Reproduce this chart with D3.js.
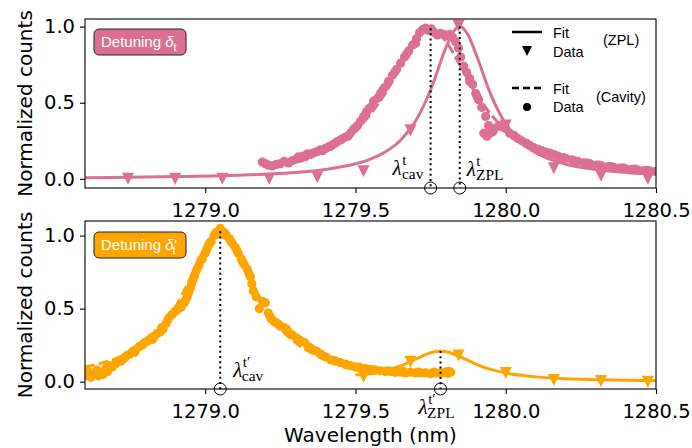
<!DOCTYPE html>
<html><head><meta charset="utf-8">
<script src="https://cdn.jsdelivr.net/npm/d3@7"></script>
<style>body{margin:0;background:#fff}</style>
</head><body>
<svg id="c" width="692" height="448"></svg>
<script>
// ---------------- DATA ----------------
const xTicks = [1279.0, 1279.5, 1280.0, 1280.5];
const yTicks = [0.0, 0.5, 1.0];

// ZPL data (triangles)
const zplTopWl  = [1278.743,1278.9,1279.057,1279.213,1279.373,1279.527,1279.683,1279.843,1280.0,1280.16,1280.317,1280.473];
const zplTopVal = [0.0,0.0,0.0,0.0,0.01,0.05,0.32,1.005,0.35,0.07,0.02,0.0];
const zplBotWl  = [1279.527,1279.683,1279.843,1280.0,1280.16,1280.317,1280.473];
const zplBotVal = [0.034,0.137,0.18,0.06,0.012,0.005,0.0];

// ZPL fits (solid)
const zplFitTopWl  = [1278.6,1278.75,1278.9,1279.05,1279.2,1279.3,1279.4,1279.5,1279.55,1279.6,1279.65,1279.7,1279.75,1279.8,1279.825,1279.847,1279.875,1279.9,1279.95,1280.0,1280.05,1280.1,1280.15,1280.2,1280.3,1280.4,1280.5];
const zplFitTopVal = [0.008,0.011,0.015,0.020,0.031,0.042,0.062,0.099,0.130,0.178,0.254,0.380,0.584,0.857,0.964,1.0,0.944,0.825,0.555,0.361,0.243,0.171,0.126,0.096,0.061,0.041,0.030];
const zplFitBotWl  = [1279.5,1279.55,1279.6,1279.65,1279.7,1279.75,1279.783,1279.8,1279.85,1279.9,1279.95,1280.0,1280.1,1280.2,1280.3,1280.4,1280.5];
const zplFitBotVal = [0.045,0.054,0.076,0.108,0.154,0.198,0.21,0.207,0.169,0.121,0.084,0.060,0.033,0.020,0.014,0.010,0.007];

// Cavity data (dots), top panel
const cavTopWl = [1279.19,1279.2,1279.21,1279.223,1279.237,1279.25,1279.263,1279.277,1279.29,1279.303,1279.317,1279.325,1279.333,1279.35,1279.358,1279.367,1279.383,1279.39,1279.4,1279.417,1279.425,1279.433,1279.45,1279.458,1279.467,1279.483,1279.493,1279.507,1279.517,1279.527,1279.537,1279.55,1279.56,1279.573,1279.583,1279.597,1279.61,1279.623,1279.637,1279.65,1279.663,1279.677,1279.69,1279.703,1279.713,1279.723,1279.733,1279.743,1279.753,1279.763,1279.773,1279.783,1279.793,1279.803,1279.813,1279.823,1279.833,1279.843,1279.85,1279.86,1279.87,1279.88,1279.89,1279.9,1279.91,1279.92,1279.927,1279.933,1279.937,1279.943,1279.947,1279.957,1279.963,1279.977,1279.99,1280.0,1280.013,1280.027,1280.04,1280.053,1280.067,1280.08,1280.093,1280.107,1280.12,1280.133,1280.147,1280.16,1280.173,1280.187,1280.2,1280.22,1280.24,1280.26,1280.28,1280.3,1280.32,1280.34,1280.36,1280.38,1280.4,1280.42,1280.44,1280.46,1280.48,1280.5,
  1279.31,1279.34,1279.375,1279.41,1279.44,1279.475,1279.5,1279.545,1279.59,1279.63,1279.67,1279.7,1279.88,1279.905,1280.03,1280.07,1280.11,1280.15,1280.19,1280.23,1280.27,1280.31,1280.35,1280.39,1280.43,1280.47];
const cavTopVal = [0.11,0.10,0.09,0.085,0.095,0.10,0.115,0.105,0.12,0.13,0.135,0.15,0.145,0.16,0.17,0.175,0.19,0.185,0.20,0.215,0.225,0.235,0.255,0.265,0.275,0.30,0.325,0.35,0.38,0.41,0.44,0.47,0.51,0.53,0.56,0.60,0.64,0.68,0.72,0.76,0.80,0.84,0.88,0.92,0.96,0.98,0.99,0.975,0.985,0.96,0.945,0.955,0.95,0.94,0.95,0.93,0.90,0.86,0.80,0.74,0.70,0.66,0.62,0.56,0.52,0.47,0.30,0.41,0.28,0.35,0.30,0.31,0.33,0.35,0.34,0.33,0.30,0.285,0.265,0.25,0.235,0.22,0.205,0.195,0.185,0.175,0.17,0.16,0.15,0.14,0.135,0.125,0.115,0.105,0.10,0.09,0.085,0.08,0.075,0.07,0.066,0.062,0.058,0.055,0.052,0.05,
  0.145,0.165,0.18,0.21,0.245,0.28,0.335,0.46,0.58,0.70,0.82,0.89,0.64,0.54,0.28,0.23,0.19,0.165,0.14,0.118,0.104,0.09,0.08,0.072,0.064,0.056];

// Cavity data (dots), bottom panel
const cavBotWl = [1278.6,1278.61,1278.62,1278.63,1278.64,1278.65,1278.66,1278.67,1278.68,1278.69,1278.7,1278.71,1278.72,1278.73,1278.74,1278.75,1278.76,1278.77,1278.78,1278.79,1278.8,1278.81,1278.82,1278.83,1278.84,1278.85,1278.86,1278.87,1278.88,1278.89,1278.9,1278.91,1278.92,1278.93,1278.94,1278.945,1278.95,1278.955,1278.96,1278.965,1278.97,1278.975,1278.98,1278.99,1279.0,1279.005,1279.01,1279.02,1279.03,1279.04,1279.05,1279.06,1279.07,1279.08,1279.09,1279.1,1279.11,1279.12,1279.13,1279.14,1279.15,1279.155,1279.16,1279.17,1279.18,1279.19,1279.2,1279.21,1279.22,1279.23,1279.24,1279.25,1279.263,1279.277,1279.29,1279.303,1279.317,1279.33,1279.343,1279.357,1279.37,1279.383,1279.4,1279.417,1279.433,1279.45,1279.467,1279.483,1279.5,1279.517,1279.533,1279.55,1279.567,1279.583,1279.6,1279.617,1279.633,1279.65,1279.667,1279.683,1279.7,1279.717,1279.733,1279.75,1279.767,1279.783,1279.8,1279.817,
  1278.615,1278.645,1278.675,1278.705,1278.735,1278.765,1278.795,1278.825,1278.855,1278.875,1278.905,1278.935,1278.985,1279.015,1279.035,1279.065,1279.085,1279.105,1279.125,1279.145,1279.215,1279.245,1279.27,1279.31,1279.35,1279.39,1279.43,1279.47,1279.51,1279.56,1279.61,1279.66,1279.71,1279.76,1279.81];
const cavBotVal = [0.04,0.07,0.03,0.05,0.08,0.06,0.05,0.09,0.11,0.10,0.12,0.14,0.14,0.16,0.18,0.19,0.21,0.22,0.24,0.25,0.27,0.28,0.30,0.31,0.33,0.34,0.36,0.40,0.44,0.46,0.48,0.50,0.51,0.54,0.58,0.61,0.64,0.67,0.70,0.73,0.76,0.78,0.80,0.84,0.88,0.905,0.93,0.96,1.00,1.01,1.05,1.01,1.00,0.98,0.95,0.92,0.88,0.84,0.80,0.77,0.72,0.67,0.62,0.58,0.50,0.55,0.54,0.47,0.43,0.41,0.40,0.38,0.37,0.34,0.32,0.30,0.28,0.27,0.24,0.22,0.21,0.19,0.17,0.15,0.14,0.13,0.12,0.11,0.10,0.095,0.09,0.085,0.08,0.075,0.07,0.07,0.065,0.065,0.06,0.065,0.06,0.06,0.06,0.055,0.06,0.06,0.065,0.065,
  0.05,0.04,0.07,0.13,0.17,0.20,0.26,0.29,0.37,0.42,0.49,0.56,0.83,0.95,1.02,1.02,0.96,0.90,0.82,0.74,0.45,0.39,0.36,0.29,0.23,0.18,0.145,0.115,0.10,0.08,0.075,0.07,0.065,0.065,0.07];

// Cavity fits (dashed)
const cavFitTopWl  = [1279.19,1279.25,1279.3,1279.35,1279.4,1279.45,1279.5,1279.55,1279.6,1279.65,1279.7,1279.725,1279.75,1279.775,1279.8,1279.85,1279.9,1279.95,1280.0,1280.05,1280.1,1280.15,1280.2,1280.25,1280.3,1280.35,1280.4,1280.45,1280.5];
const cavFitTopVal = [0.087,0.107,0.128,0.158,0.196,0.249,0.322,0.425,0.565,0.739,0.906,0.96,0.98,0.96,0.906,0.739,0.565,0.425,0.322,0.249,0.196,0.158,0.128,0.107,0.090,0.077,0.066,0.058,0.051];
const cavFitBotWl  = [1278.6,1278.65,1278.7,1278.75,1278.8,1278.85,1278.9,1278.95,1279.0,1279.025,1279.05,1279.075,1279.1,1279.15,1279.2,1279.25,1279.3,1279.35,1279.4,1279.45,1279.5,1279.55,1279.6,1279.65,1279.7,1279.75,1279.82];
const cavFitBotVal = [0.101,0.124,0.156,0.202,0.267,0.364,0.507,0.707,0.925,1.001,1.03,1.001,0.925,0.707,0.507,0.364,0.267,0.202,0.156,0.124,0.101,0.083,0.070,0.059,0.051,0.044,0.037];

// Resonance markers
const lamTop = {cav: 1279.75, zpl: 1279.847, cavPeak: 0.99, zplPeak: 1.0};
const lamBot = {cav: 1279.05, zpl: 1279.783, cavPeak: 1.03, zplPeak: 0.21};

const PINK = "#DB7093", ORANGE = "#FFA500";

// ---------------- DRAW ----------------
const svg = d3.select("#c");
const L = 85, R = 656;
const x = d3.scaleLinear().domain([1278.6, 1280.5]).range([L, R]);
const panels = [
  {top: 19, bot: 188, dom: [-0.06, 1.05], color: PINK, zW: zplTopWl, zVal: zplTopVal, zfW: zplFitTopWl, zfV: zplFitTopVal,
   cW: cavTopWl, cV: cavTopVal, cfW: cavFitTopWl, cfV: cavFitTopVal, lam: lamTop},
  {top: 221, bot: 389, dom: [-0.05, 1.10], color: ORANGE, zW: zplBotWl, zVal: zplBotVal, zfW: zplFitBotWl, zfV: zplFitBotVal,
   cW: cavBotWl, cV: cavBotVal, cfW: cavFitBotWl, cfV: cavFitBotVal, lam: lamBot}
];

const tickFont = "'DejaVu Sans', sans-serif";
const triPath = s => `M${-s},${-s}L${s},${-s}L0,${s}Z`;

panels.forEach((p, i) => {
  const y = d3.scaleLinear().domain(p.dom).range([p.bot, p.top]);
  const clipId = "clip" + i;
  svg.append("clipPath").attr("id", clipId).append("rect")
    .attr("x", L).attr("y", p.top).attr("width", R - L).attr("height", p.bot - p.top);
  const g = svg.append("g").attr("clip-path", `url(#${clipId})`);

  g.selectAll("circle.cav").data(p.cW.map((w, k) => [w, p.cV[k]])).enter().append("circle")
    .attr("cx", d => x(d[0])).attr("cy", d => y(d[1])).attr("r", 4.6).attr("fill", p.color);
  const line = d3.line().x(d => x(d[0])).y(d => y(d[1])).curve(d3.curveMonotoneX);
  g.append("path").attr("d", line(p.cfW.map((w, k) => [w, p.cfV[k]])))
    .attr("fill", "none").attr("stroke", p.color).attr("stroke-width", 3).attr("stroke-dasharray", "10,4");
  g.append("path").attr("d", line(p.zfW.map((w, k) => [w, p.zfV[k]])))
    .attr("fill", "none").attr("stroke", p.color).attr("stroke-width", 3);
  g.selectAll("path.tri").data(p.zW.map((w, k) => [w, p.zVal[k]])).enter().append("path")
    .attr("d", triPath(6)).attr("transform", d => `translate(${x(d[0])},${y(d[1])})`).attr("fill", p.color);

  const xa = svg.append("g").attr("transform", `translate(0,${p.bot})`)
    .call(d3.axisBottom(x).tickValues(xTicks).tickFormat(d3.format(".1f")).tickSize(5).tickPadding(10));
  const ya = svg.append("g").attr("transform", `translate(${L},0)`)
    .call(d3.axisLeft(y).tickValues(yTicks).tickFormat(d3.format(".1f")).tickSize(5).tickPadding(5));
  [xa, ya].forEach(a => {
    a.select(".domain").remove();
    a.selectAll("text").attr("font-family", tickFont).attr("font-size", 19.5).attr("fill", "#000");
    a.selectAll("line").attr("stroke", "#000").attr("stroke-width", 1.1);
  });
  svg.append("rect").attr("x", L).attr("y", p.top).attr("width", R - L).attr("height", p.bot - p.top)
    .attr("fill", "none").attr("stroke", "#000").attr("stroke-width", 1.1);

  svg.append("text").attr("transform", `translate(32,${(p.top + p.bot) / 2}) rotate(-90)`)
    .attr("text-anchor", "middle").attr("font-family", tickFont).attr("font-size", 20).text("Normalized counts");

  [[p.lam.cav, p.lam.cavPeak], [p.lam.zpl, p.lam.zplPeak]].forEach(([w, v]) => {
    svg.append("line").attr("x1", x(w)).attr("x2", x(w)).attr("y1", y(v)).attr("y2", p.bot)
      .attr("stroke", "#000").attr("stroke-width", 2).attr("stroke-dasharray", "2,3.2");
    svg.append("circle").attr("cx", x(w)).attr("cy", p.bot).attr("r", 6)
      .attr("fill", "none").attr("stroke", "#000").attr("stroke-width", 1);
  });
});

// lambda labels (single text element with super/subscript)
function lambda(x0, base, sup, sub, supW) {
  const f = "'Liberation Serif', 'Times New Roman', serif";
  const t = svg.append("text").attr("x", x0).attr("y", base).attr("font-family", f).attr("font-size", 21);
  t.append("tspan").attr("font-style", "italic").text("λ");
  t.append("tspan").attr("font-size", 15).attr("dx", 0.5).attr("dy", -10).text(sup);
  t.append("tspan").attr("font-size", 15.5).attr("dx", -supW).attr("dy", 13.5).text(sub);
}
lambda(x(lamTop.cav) - 38, 175, "t", "cav", 4.5);
lambda(x(lamTop.zpl) + 7, 176, "t", "ZPL", 4.5);
lambda(x(lamBot.cav) + 13, 377, "t′", "cav", 8.5);
lambda(x(lamBot.zpl) - 22, 414, "t′", "ZPL", 8.5);

svg.append("text").attr("x", (L + R) / 2).attr("y", 442).attr("text-anchor", "middle")
  .attr("font-family", tickFont).attr("font-size", 20).text("Wavelength (nm)");

const sans = "'Liberation Sans', Arial, sans-serif";
function box(y0, color, prime) {
  svg.append("rect").attr("x", 94).attr("y", y0).attr("width", 92).attr("height", 26).attr("rx", 5)
    .attr("fill", color).attr("stroke", "#222").attr("stroke-width", 1);
  const t = svg.append("text").attr("x", 101).attr("y", y0 + 18).attr("font-family", sans)
    .attr("font-size", 15).attr("fill", "#fff");
  t.append("tspan").text("Detuning ");
  t.append("tspan").attr("font-style", "italic").text(prime ? "δ′" : "δ");
  t.append("tspan").attr("font-size", 11).attr("dy", 4).attr("dx", prime ? -4 : 0).text("t");
}
box(29, PINK, false);
box(232, ORANGE, true);

const lg = svg.append("g").attr("font-family", sans).attr("font-size", 14.5).attr("fill", "#000");
lg.append("line").attr("x1", 512).attr("x2", 542).attr("y1", 32).attr("y2", 32).attr("stroke", "#000").attr("stroke-width", 2.5);
lg.append("text").attr("x", 553).attr("y", 38).text("Fit");
lg.append("path").attr("d", triPath(5)).attr("transform", "translate(527,51)").attr("fill", "#000");
lg.append("text").attr("x", 553).attr("y", 57).text("Data");
lg.append("text").attr("x", 603).attr("y", 45).text("(ZPL)");
lg.append("line").attr("x1", 512).attr("x2", 542).attr("y1", 88).attr("y2", 88).attr("stroke", "#000").attr("stroke-width", 2.5).attr("stroke-dasharray", "7,4");
lg.append("text").attr("x", 553).attr("y", 94).text("Fit");
lg.append("circle").attr("cx", 527).attr("cy", 107).attr("r", 4).attr("fill", "#000");
lg.append("text").attr("x", 553).attr("y", 112).text("Data");
lg.append("text").attr("x", 596).attr("y", 102).text("(Cavity)");
</script>
</body></html>
